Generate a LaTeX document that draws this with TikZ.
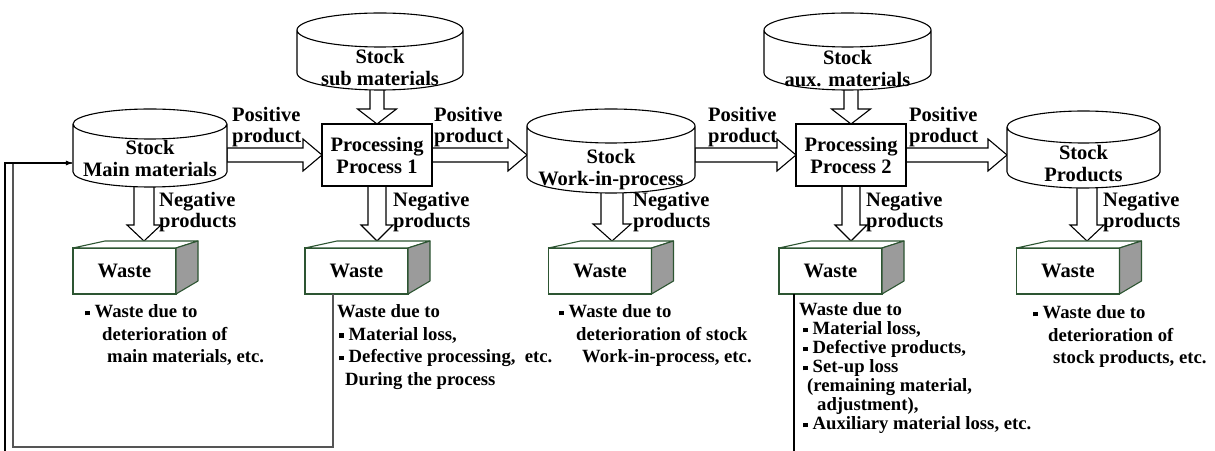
\documentclass[tikz,border=0pt]{standalone}
\usepackage{fontspec}
\setmainfont{Liberation Serif}
\usetikzlibrary{calc,arrows.meta}

\definecolor{wasteedge}{RGB}{45,85,50}
\definecolor{wasteside}{RGB}{155,155,155}
\definecolor{loopgray}{RGB}{85,85,85}

\pgfdeclarelayer{paper}
\pgfdeclarelayer{background}
\pgfsetlayers{paper,background,main}

% small square bullet used in the waste descriptions
\newcommand\sqbullet{\rule[2.5bp]{4.5bp}{4.5bp}\hspace{5bp}}

% stock drum drawn around an invisible body node #1; #2 = half height of the end ellipses
\newcommand\drum[2]{%
  \draw[drumline] let \p1=(#1.north west), \p2=(#1.south east), \n1={(\x2-\x1)/2} in
    (\x1,\y1) -- (\x1,\y2) arc[start angle=180,end angle=360,x radius=\n1,y radius=#2]
    -- (\x2,\y1) arc[start angle=0,end angle=180,x radius=\n1,y radius=#2] -- cycle
    (\x2,\y1) arc[start angle=0,end angle=-180,x radius=\n1,y radius=#2];}

% top face and shaded side of a waste box #1
\newcommand\wastecube[1]{%
  \draw[wasteline,fill=white] (#1.north west) -- ++(32bp,7bp)
    -- ($(#1.north east)+(22bp,7bp)$) -- (#1.north east) -- cycle;
  \draw[wasteline,fill=wasteside] (#1.north east) -- ++(22bp,7bp)
    -- ($(#1.south east)+(22bp,13bp)$) -- (#1.south east) -- cycle;}

% horizontal block arrow from #1 to tip #2
\newcommand\hblock[2]{%
  \draw[blockarrow] let \p1=(#1), \p2=(#2) in
    (\x1,\y2+7bp) -- (\x2-19bp,\y2+7bp) -- (\x2-19bp,\y2+16bp) -- (\x2,\y2)
    -- (\x2-19bp,\y2-16bp) -- (\x2-19bp,\y2-7bp) -- (\x1,\y2-7bp) -- cycle;}

% downward block arrow from #1 to tip #2; shaft half width #3, head half width #4, head length #5
\newcommand\vblock[5]{%
  \draw[blockarrow] let \p1=(#1), \p2=(#2) in
    (\x2-#3,\y1) -- (\x2-#3,\y2+#5) -- (\x2-#4,\y2+#5) -- (\x2,\y2)
    -- (\x2+#4,\y2+#5) -- (\x2+#3,\y2+#5) -- (\x2+#3,\y1) -- cycle;}

\begin{document}
\begin{tikzpicture}[x=1bp,y=-1bp,
  bigfont/.style={font=\fontsize{20.5bp}{22bp}\selectfont\bfseries},
  drumbody/.style={inner sep=0pt,outer sep=0pt},
  drumline/.style={draw=black,fill=white,line width=1.1bp},
  drumtext/.style={bigfont,align=center,inner sep=0pt,anchor=base},
  procbox/.style={bigfont,draw=black,fill=white,line width=1.1bp,align=center,
    minimum width=110bp,minimum height=62bp,inner sep=0pt,outer sep=0pt},
  wasteline/.style={draw=wasteedge,line width=1.1bp,line join=round},
  wastefront/.style={bigfont,draw=wasteedge,fill=white,line width=1.1bp,
    minimum width=103bp,minimum height=46bp,inner sep=0pt,outer sep=0pt},
  blockarrow/.style={draw=black,fill=white,line width=1.1bp,line join=miter},
  flowlabel/.style={font=\fontsize{20.5bp}{21bp}\selectfont\bfseries,
    align=left,inner sep=0pt,anchor=base west},
  note/.style={font=\fontsize{18.7bp}{22.5bp}\selectfont\bfseries,
    align=left,inner sep=0pt,anchor=base west},
  tightnote/.style={note,font=\fontsize{18.7bp}{19bp}\selectfont\bfseries},
  loopline/.style={draw=loopgray,line width=1.1bp},
  feedline/.style={draw=black,line width=1.1bp}]

\begin{pgfonlayer}{paper}
  \fill[white] (0,0) rectangle (1215,451);
\end{pgfonlayer}
\useasboundingbox (0,0) rectangle (1215,451);

% ---- stock drums (bodies between the ellipse centres) ----
\node[drumbody,minimum width=154bp,minimum height=48bp] (c1) at (150,148) {};
\node[drumbody,minimum width=166bp,minimum height=43bp] (c2) at (380,51.5) {};
\node[drumbody,minimum width=168bp,minimum height=50bp] (c3) at (611,151) {};
\node[drumbody,minimum width=167bp,minimum height=43bp] (c4) at (847.5,51.5) {};
\node[drumbody,minimum width=153bp,minimum height=45bp] (c5) at (1083.5,149.5) {};

% ---- processing steps ----
\node[procbox] (p1) at (377,155) {Processing\\Process 1};
\node[procbox] (p2) at (851,155) {Processing\\Process 2};

% ---- waste boxes ----
\node[wastefront] (w1) at (124.5,271) {Waste};
\node[wastefront] (w2) at (356.5,271) {Waste};
\node[wastefront] (w3) at (600,271) {Waste};
\node[wastefront] (w4) at (830.5,271) {Waste};
\node[wastefront] (w5) at (1068,271) {Waste};
\wastecube{w1}
\wastecube{w2}
\wastecube{w3}
\wastecube{w4}
\wastecube{w5}

% tips of the arrows that end on the waste boxes
\coordinate (n1) at (144,241);
\coordinate (n2) at (377,241);
\coordinate (n3) at (612,241);
\coordinate (n4) at (851,241);
\coordinate (n5) at (1087,241);

% ---- block arrows, kept behind the shapes ----
\begin{pgfonlayer}{background}
  \hblock{c1.east |- p1.west}{p1.west}
  \hblock{p1.east}{c3.west |- p1.east}
  \hblock{c3.east |- p2.west}{p2.west}
  \hblock{p2.east}{c5.west |- p2.east}
  \vblock{p1.north |- c2.center}{p1.north}{7bp}{19.5bp}{15bp}
  \vblock{p2.north |- c4.center}{p2.north}{7bp}{19.5bp}{15bp}
  \vblock{n1 |- c1.center}{n1}{10bp}{17bp}{16bp}
  \vblock{n2 |- p1.center}{n2}{9bp}{16bp}{16bp}
  \vblock{n3 |- c3.center}{n3}{11bp}{19bp}{17bp}
  \vblock{n4 |- p2.center}{n4}{9bp}{16bp}{16bp}
  \vblock{n5 |- c5.center}{n5}{10bp}{17bp}{16bp}
\end{pgfonlayer}

\drum{c1}{15bp}
\drum{c2}{17bp}
\drum{c3}{17bp}
\drum{c4}{17bp}
\drum{c5}{16bp}

% multi-line nodes: the base anchor sits on the last line
\node[drumtext] (c1t) at (150,177) {Stock\\Main materials};
\node[drumtext] (c2t) at (380,86) {Stock\\sub materials};
\node[drumtext] (c3t) at (611,186) {Stock\\Work-in-process};
\node[drumtext] (c4t) at (847.5,87) {Stock\\aux. materials};
\node[drumtext] (c5t) at (1083.5,182) {Stock\\Products};

% ---- flow labels ----
\node[flowlabel] (pos1) at (232,143) {Positive\\product};
\node[flowlabel] (pos2) at (434,143) {Positive\\product};
\node[flowlabel] (pos3) at (708,143) {Positive\\product};
\node[flowlabel] (pos4) at (909,143) {Positive\\product};
\node[flowlabel] (neg1) at (159,228) {Negative\\products};
\node[flowlabel] (neg2) at (393,228) {Negative\\products};
\node[flowlabel] (neg3) at (633,228) {Negative\\products};
\node[flowlabel] (neg4) at (866,228) {Negative\\products};
\node[flowlabel] (neg5) at (1103,228) {Negative\\products};

% ---- waste descriptions ----
\node[note] (d1) at (85,363) {\sqbullet Waste due to\\\hspace*{17bp}deterioration of\\\hspace*{22bp}main materials, etc.};
\node[note] (d2) at (337,385.5) {Waste due to\\\hspace*{2bp}\sqbullet Material loss,\\\hspace*{2bp}\sqbullet Defective processing,\ \ etc.\\\hspace*{8bp}During the process};
\node[note] (d3) at (559,363) {\sqbullet Waste due to\\\hspace*{17bp}deterioration of stock\\\hspace*{23bp}Work-in-process, etc.};
\node[tightnote] (d4) at (799,430) {Waste due to\\\hspace*{4bp}\sqbullet Material loss,\\\hspace*{4bp}\sqbullet Defective products,\\\hspace*{4bp}\sqbullet Set-up loss\\\hspace*{8bp}(remaining material,\\\hspace*{18bp}adjustment),\\\hspace*{4bp}\sqbullet Auxiliary material loss, etc.};
\node[note] (d5) at (1033,364) {\sqbullet Waste due to\\\hspace*{15bp}deterioration of\\\hspace*{20bp}stock products, etc.};

% ---- return lines ----
\coordinate (w2drop) at ($(w2.south west)+(28bp,0)$);
\coordinate (w4drop) at ($(w4.south west)+(15bp,0)$);
\coordinate (c1in) at (c1.west |- 0,163);
\draw[loopline] (w2drop) |- (13,447) |- (c1in);
\draw[feedline,-{Latex[length=7bp,width=5bp]}] (5,451) |- (c1in);
\draw[feedline] (w4drop) -- (w4drop |- 0,451);

\end{tikzpicture}
\end{document}
